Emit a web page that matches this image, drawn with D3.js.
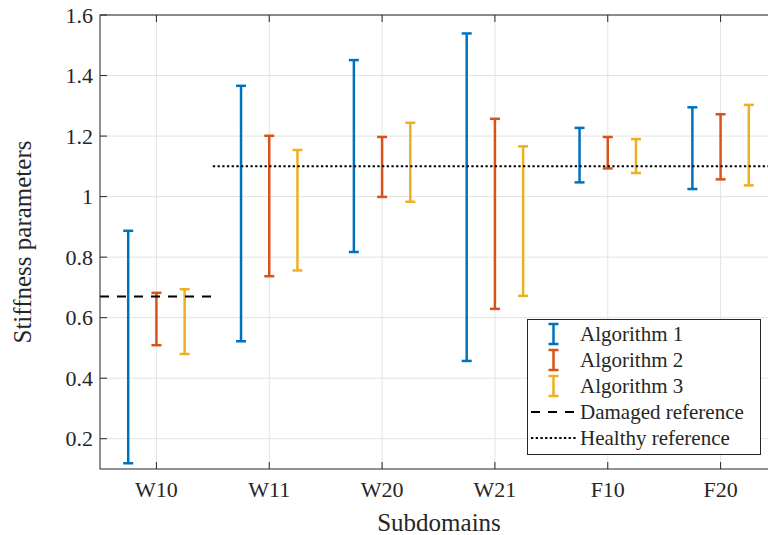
<!DOCTYPE html>
<html>
<head>
<meta charset="utf-8">
<script src="https://cdn.jsdelivr.net/npm/d3@7.9.0/dist/d3.min.js"></script>
<style>
  body { margin: 0; background: #fff; }
  svg { display: block; }
</style>
</head>
<body>
<svg id="chart" width="768" height="535"></svg>
<script>
// data
const subdomains = ['W10', 'W11', 'W20', 'W21', 'F10', 'F20'];
const algorithms = ['Algorithm 1', 'Algorithm 2', 'Algorithm 3'];
const alg1Low  = [0.119, 0.522, 0.817, 0.457, 1.047, 1.025];
const alg1High = [0.887, 1.366, 1.451, 1.539, 1.227, 1.295];
const alg2Low  = [0.509, 0.737, 0.999, 0.629, 1.093, 1.057];
const alg2High = [0.682, 1.201, 1.197, 1.257, 1.197, 1.272];
const alg3Low  = [0.480, 0.756, 0.983, 0.672, 1.078, 1.037];
const alg3High = [0.694, 1.154, 1.244, 1.166, 1.190, 1.303];
const damagedRef = 0.67;   // W10 only
const healthyRef = 1.1;    // other subdomains
const yTicks = [0.2, 0.4, 0.6, 0.8, 1.0, 1.2, 1.4, 1.6];

const colors = ['#0072BD', '#D95319', '#EDB120'];
const lows = [alg1Low, alg2Low, alg3Low];
const highs = [alg1High, alg2High, alg3High];
const offsets = [-0.25, 0, 0.25];

const svg = d3.select('#chart');
const plotL = 100, plotR = 777, plotT = 15, plotB = 469;

// category index 1..6
const x = d3.scaleLinear().domain([0.5, 6.5]).range([plotL, plotR]);
const y = d3.scaleLinear().domain([0.1, 1.6]).range([plotB, plotT]);

// text helper: font set through the style attribute
function label(parent, txt, size) {
  return parent.append('text')
    .attr('style', `font-family: Liberation Serif, serif; font-size: ${size}px; fill: #262626;`)
    .text(txt);
}

// grid
const grid = svg.append('g');
subdomains.forEach((s, i) => {
  grid.append('line')
    .attr('x1', x(i + 1)).attr('x2', x(i + 1))
    .attr('y1', plotT).attr('y2', plotB)
    .attr('stroke', '#e3e3e3').attr('stroke-width', 1);
});
yTicks.forEach(t => {
  grid.append('line')
    .attr('x1', plotL).attr('x2', plotR)
    .attr('y1', y(t)).attr('y2', y(t))
    .attr('stroke', '#e3e3e3').attr('stroke-width', 1);
});

// error bars
const bars = svg.append('g');
lows.forEach((lo, a) => {
  lo.forEach((v, i) => {
    const cx = x(i + 1 + offsets[a]);
    const g = bars.append('g').attr('stroke', colors[a]).attr('stroke-width', 2.5);
    g.append('line').attr('x1', cx).attr('x2', cx).attr('y1', y(v)).attr('y2', y(highs[a][i]));
    g.append('line').attr('x1', cx - 5).attr('x2', cx + 5).attr('y1', y(v)).attr('y2', y(v));
    g.append('line').attr('x1', cx - 5).attr('x2', cx + 5).attr('y1', y(highs[a][i])).attr('y2', y(highs[a][i]));
  });
});

// reference lines
svg.append('line')
  .attr('x1', x(0.5)).attr('x2', x(1.5))
  .attr('y1', y(damagedRef)).attr('y2', y(damagedRef))
  .attr('stroke', '#000').attr('stroke-width', 2)
  .attr('stroke-dasharray', '9,8');
svg.append('line')
  .attr('x1', x(1.5)).attr('x2', x(6.5))
  .attr('y1', y(healthyRef)).attr('y2', y(healthyRef))
  .attr('stroke', '#000').attr('stroke-width', 2)
  .attr('stroke-dasharray', '2.3,2.4');

// axes box
const axisColor = '#262626';
svg.append('rect')
  .attr('x', plotL).attr('y', plotT)
  .attr('width', plotR - plotL).attr('height', plotB - plotT)
  .attr('fill', 'none').attr('stroke', axisColor).attr('stroke-width', 1);

// ticks (inward) and labels
subdomains.forEach((s, i) => {
  const tx = x(i + 1);
  svg.append('line').attr('x1', tx).attr('x2', tx).attr('y1', plotB).attr('y2', plotB - 7)
    .attr('stroke', axisColor);
  svg.append('line').attr('x1', tx).attr('x2', tx).attr('y1', plotT).attr('y2', plotT + 7)
    .attr('stroke', axisColor);
  label(svg, s, 22).attr('x', tx).attr('y', 497).attr('text-anchor', 'middle');
});
yTicks.forEach(t => {
  svg.append('line').attr('x1', plotL).attr('x2', plotL + 7).attr('y1', y(t)).attr('y2', y(t))
    .attr('stroke', axisColor);
  label(svg, String(+t.toFixed(1)), 22)
    .attr('x', 93).attr('y', y(t) + 7.5).attr('text-anchor', 'end');
});

// axis labels
label(svg, 'Subdomains', 25).attr('x', 439).attr('y', 531).attr('text-anchor', 'middle');
label(svg, 'Stiffness parameters', 25)
  .attr('transform', `translate(31, ${(plotT + plotB) / 2}) rotate(-90)`)
  .attr('text-anchor', 'middle');

// legend
const legend = svg.append('g');
legend.append('rect')
  .attr('x', 527.5).attr('y', 319.5).attr('width', 233).attr('height', 135)
  .attr('fill', '#fff').attr('stroke', axisColor).attr('stroke-width', 1);
const rowY = d3.scaleLinear().domain([0, 4]).range([334, 438]);
algorithms.forEach((name, a) => {
  const cy = rowY(a), ix = 553.5;
  const g = legend.append('g').attr('stroke', colors[a]).attr('stroke-width', 2.5);
  g.append('line').attr('x1', ix).attr('x2', ix).attr('y1', cy - 10).attr('y2', cy + 10);
  g.append('line').attr('x1', ix - 5).attr('x2', ix + 5).attr('y1', cy - 10).attr('y2', cy - 10);
  g.append('line').attr('x1', ix - 5).attr('x2', ix + 5).attr('y1', cy + 10).attr('y2', cy + 10);
  label(legend, name, 21).attr('x', 580).attr('y', cy + 7);
});
const refs = [['Damaged reference', '9,8'], ['Healthy reference', '2.3,2.4']];
refs.forEach(([name, dash], k) => {
  const cy = rowY(3 + k);
  legend.append('line').attr('x1', 531).attr('x2', 576).attr('y1', cy).attr('y2', cy)
    .attr('stroke', '#000').attr('stroke-width', 2).attr('stroke-dasharray', dash);
  label(legend, name, 21).attr('x', 580).attr('y', cy + 7);
});
</script>
</body>
</html>
